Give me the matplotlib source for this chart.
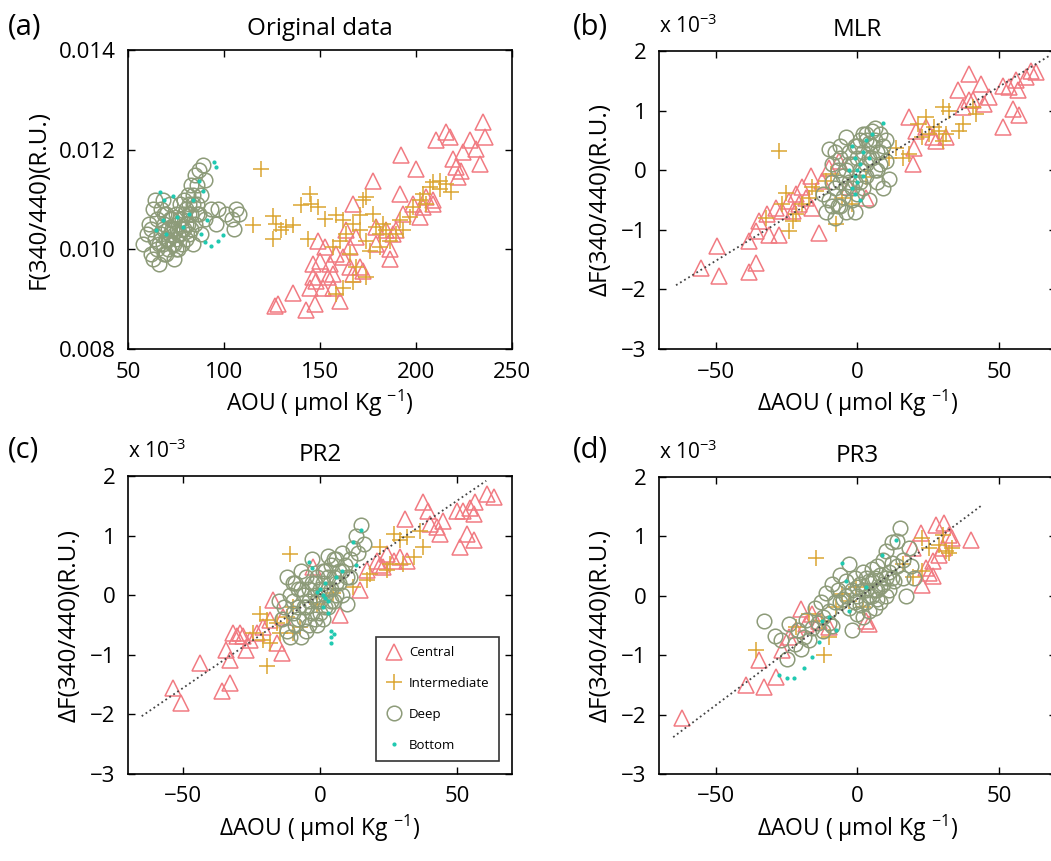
import matplotlib
matplotlib.use('Agg')
import matplotlib.pyplot as plt

plt.rcParams['font.family'] = ['Open Sans', 'DejaVu Sans']

# ---- (a) original data: AOU vs F(340/440)
cen_a_x = [128.1, 126.4, 135.9, 142.9, 147.2, 146.4, 149.0, 152.4, 149.8, 155.0, 156.8, 160.2, 151.6, 148.1,
           156.8, 154.1, 162.0, 163.7, 165.5, 167.2, 170.7, 172.4, 169.0, 177.6, 179.3, 186.3, 189.8, 188.0,
           191.5, 192.4, 198.4, 200.2, 201.9, 203.6, 208.9, 210.6, 215.8, 217.5, 219.3, 221.0, 224.5, 228.0,
           231.4, 233.2, 234.9, 235.8, 223.6, 222.0, 208.9, 205.4, 193.2, 184.5, 186.3, 179.3, 146.4, 144.6,
           158.5, 165.5, 167.2]
cen_a_y = [0.00890, 0.00886, 0.00913, 0.00879, 0.00890, 0.00970, 0.01017, 0.01004, 0.00977, 0.00970, 0.00950,
           0.00896, 0.00923, 0.00937, 0.00923, 0.00944, 0.00984, 0.01038, 0.01004, 0.01091, 0.00964, 0.00957,
           0.01024, 0.01138, 0.01011, 0.00981, 0.01038, 0.01031, 0.01111, 0.01189, 0.01091, 0.01162, 0.01064,
           0.01085, 0.01098, 0.01219, 0.01236, 0.01226, 0.01182, 0.01165, 0.01195, 0.01219, 0.01202, 0.01172,
           0.01256, 0.01226, 0.01158, 0.01145, 0.01091, 0.01105, 0.01071, 0.01038, 0.01001, 0.01044, 0.00944,
           0.00923, 0.00991, 0.00964, 0.00950]
int_a_x = [119.4, 115.0, 125.5, 127.3, 129.9, 125.5, 132.4, 135.9, 140.3, 144.6, 145.5, 149.0, 143.8, 152.4,
           158.5, 162.0, 163.7, 160.2, 167.2, 170.7, 172.4, 174.1, 177.6, 170.7, 174.1, 179.3, 182.8, 184.5,
           186.3, 176.0, 181.0, 174.1, 167.2, 169.0, 165.5, 191.5, 196.7, 198.4, 201.9, 203.6, 207.1, 208.9,
           212.3, 215.8, 218.4, 212.3, 205.4, 193.2, 189.8, 181.1, 156.8, 162.0, 158.5]
int_a_y = [0.01162, 0.01048, 0.01067, 0.01051, 0.01038, 0.01021, 0.01044, 0.01048, 0.01088, 0.01111, 0.01091,
           0.01085, 0.01021, 0.01061, 0.01068, 0.01058, 0.01031, 0.01017, 0.01051, 0.01068, 0.01098, 0.01105,
           0.01071, 0.01038, 0.01017, 0.01044, 0.01051, 0.01038, 0.01017, 0.00997, 0.01004, 0.00944, 0.00934,
           0.00964, 0.00991, 0.01058, 0.01064, 0.01085, 0.01098, 0.01111, 0.01125, 0.01135, 0.01121, 0.01132,
           0.01115, 0.01138, 0.01091, 0.01038, 0.01031, 0.01031, 0.01004, 0.00923, 0.00910]
deep_a_x = [58, 60, 61, 62, 63, 64, 65, 65, 66, 67, 67, 68, 69, 69, 70, 70, 71, 71, 72, 72, 73, 73, 74, 74, 75,
            75, 76, 76, 77, 77, 78, 78, 79, 79, 80, 80, 81, 81, 82, 82, 83, 83, 84, 84, 85, 85, 86, 86, 87, 87,
            88, 88, 89, 90, 90, 93, 97, 101, 104, 106, 108, 105, 96, 68, 64,
            62, 66, 68, 70, 72, 74, 76, 78, 80, 82, 84, 86, 75, 71, 69, 63, 79, 83, 73, 77]
deep_a_y = [0.0101, 0.0103, 0.0105, 0.0099, 0.0108, 0.0102, 0.0100, 0.0106, 0.0097, 0.0103, 0.0108, 0.0101,
            0.0099, 0.0105, 0.0102, 0.0107, 0.0100, 0.0104, 0.0103, 0.0109, 0.0101, 0.0106, 0.0098, 0.0104,
            0.0102, 0.0107, 0.0100, 0.0105, 0.0103, 0.0109, 0.0101, 0.0106, 0.0110, 0.0104, 0.0102, 0.0108,
            0.0111, 0.0105, 0.0103, 0.0109, 0.0113, 0.0107, 0.0101, 0.0111, 0.0115, 0.0105, 0.0109, 0.0113,
            0.0107, 0.0116, 0.0111, 0.0103, 0.0117, 0.0114, 0.0106, 0.0108, 0.0108, 0.0107, 0.0106, 0.0108,
            0.0107, 0.0104, 0.0105, 0.0110, 0.0110,
            0.0104, 0.0101, 0.0104, 0.0099, 0.0106, 0.0101, 0.0103, 0.0104, 0.0105, 0.0107, 0.0109, 0.0107,
            0.0100, 0.0102, 0.0107, 0.0098, 0.0107, 0.0104, 0.0104, 0.0106]
bot_a_x = [66.8, 73.4, 69.0, 95.0, 95.6, 68.0, 87.0, 89.0, 91.0, 88.0, 90.0, 93.4, 96.9, 99.5, 75.3, 78.8,
           70.0, 64.8, 82.0, 83.9]
bot_a_y = [0.01115, 0.01108, 0.01098, 0.01175, 0.01165, 0.01058, 0.01138, 0.01118, 0.01058, 0.01031, 0.01014,
           0.01007, 0.01017, 0.01028, 0.01064, 0.01044, 0.01031, 0.01038, 0.01071, 0.01098]

# ---- (b) MLR residuals (y in units of 1e-3)
cen_b_x = [-55.3, -48.8, -49.4, -38.2, -35.9, -38.2, -35.9, -34.7, -31.8, -31.2, -28.8, -27.6, -26.5, -24.1,
           -22.9, -21.8, -20.6, -19.4, -18.2, -16.5, -15.9, -13.5, -12.4, -10.0, 2.9, 18.2, 19.4, 20.0, 20.6,
           24.1, 26.5, 27.6, 31.2, 35.3, 37.1, 39.4, 40.6, 43.5, 44.7, 46.5, 51.2, 51.2, 54.7, 53.5, 56.5, 55.9,
           57.1, 61.2, 62.9, 59.4, 39.4, -6.5, -2.9]
cen_b_y = [-1.64, -1.78, -1.28, -1.70, -1.56, -1.19, -1.02, -0.85, -0.74, -1.08, -0.63, -1.08, -0.69, -0.52,
           -0.69, -0.40, -0.57, -0.29, -0.46, -0.10, -0.63, -1.05, -0.18, 0.04, -0.46, 0.89, 0.10, 0.38, 0.66,
           0.72, 0.55, 0.49, 0.55, 1.34, 1.06, 1.62, 1.17, 1.45, 1.11, 1.22, 0.72, 1.42, 1.03, 1.39, 1.34, 1.52,
           0.92, 1.67, 1.65, 1.56, 1.17, 0.16, -0.29]
int_b_x = [-27.6, -25.3, -26.5, -22.9, -21.8, -19.4, -17.1, -14.7, -11.2, -9.4, -7.6, 2.9, 11.2, 13.5, 15.9,
           18.2, 21.2, 24.1, 25.3, 28.8, 30.0, 32.4, 31.2, 30.0, 37.1, 35.9, 40.6, 41.8, 22.9, 27.1, -5.3, -1.8,
           -15.9, -32.4, -24.1]
int_b_y = [0.33, -0.38, -0.57, -0.85, -0.74, -0.57, -0.46, -0.35, -0.18, -0.07, -0.91, -0.12, 0.21, 0.38, 0.21,
           0.27, 0.78, 0.89, 0.61, 0.66, 1.06, 1.00, 0.61, 0.49, 0.78, 0.66, 1.06, 0.94, 0.55, 0.72, -0.46, -0.57,
           -0.29, -0.80, -1.02]
deep_b_x = [-10, -9, -9, -10, -11, -8, -7, -8, -7, -6, -4, -5, -5, -4, -3, -3, -2, -2, -1, -1, 0, 0, 1, 1, 2, 2,
            3, 3, 4, 4, 5, 5, 6, 6, 7, 7, 8, 8, 9, 10, 11, -6, -12, -1, 3, -4,
            -6, -3, 0, 2, 4, 6, -8, -9, -2, 1, 3, 5, 7, 9, 10, -4, -6, 8]
deep_b_y = [0.35, 0.1, -0.2, -0.5, -0.7, -0.8, -0.6, -0.3, 0.0, 0.2, 0.55, -0.1, -0.45, -0.7, 0.3, -0.2, 0.1,
            -0.5, 0.4, -0.2, 0.2, -0.4, 0.5, 0.0, -0.3, 0.3, 0.6, -0.1, 0.2, -0.5, 0.65, 0.4, 0.0, 0.5, 0.3, -0.2,
            0.6, 0.1, 0.4, 0.15, -0.15, 0.4, -0.4, -0.7, 0.5, 0.0,
            -0.2, 0.1, 0.4, 0.6, 0.45, 0.7, 0.3, -0.6, -0.3, -0.2, 0.1, 0.2, 0.0, -0.3, 0.5, -0.3, -0.6, 0.3]
bot_b_x = [-2, -1, -2, 0, 1, -1, 2, 3, 9, 0, -3, 1, 4, -1, 2, 5]
bot_b_y = [0.4, -0.1, -0.3, -0.2, 0.1, -0.4, 0.3, 0.5, 0.8, 0.0, 0.0, -0.5, 0.2, 0.2, -0.1, 0.6]
fit_b_x = [-64, 68]
fit_b_y = [-1.93, 1.93]

# ---- (c) PR2 residuals
cen_c_x = [-53.5, -50.5, -43.8, -35.9, -32.8, -34.1, -32.8, -31.6, -30.4, -29.2, -28.0, -26.8, -25.5, -23.1,
           -20.7, -18.2, -15.8, -14.0, -17.0, -13.4, -2.4, 7.3, 14.6, 17.0, 20.7, 24.3, 26.8, 29.2, 31.6, 31.0,
           37.7, 39.5, 40.1, 42.6, 45.0, 43.8, 49.9, 51.1, 53.5, 56.0, 52.3, 54.7, 56.0, 56.6, 60.8, 63.3, 21.9,
           23.1]
cen_c_y = [-1.56, -1.81, -1.14, -1.61, -1.47, -0.92, -1.08, -0.64, -0.69, -0.64, -0.69, -0.92, -0.75, -0.64,
           -0.53, -0.42, -0.81, -0.97, -0.08, -0.36, 0.47, -0.33, 0.08, 0.42, 0.58, 0.69, 0.58, 0.64, 0.58, 1.28,
           1.56, 1.42, 1.19, 1.14, 1.25, 1.03, 1.42, 0.81, 1.03, 0.92, 1.42, 1.47, 1.36, 1.56, 1.69, 1.64, 0.50,
           0.47]
int_c_x = [-11.0, -19.5, -21.9, -19.5, -20.7, -24.3, -18.2, -14.6, -15.8, -12.2, -9.7, -7.3, 17.0, 18.2, 21.9,
           26.8, 29.2, 31.6, 34.1, 36.5, 37.7, 25.5, 24.3, 30.4, 12.2, -9.7, -1.2, 4.9]
int_c_y = [0.69, -1.19, -0.31, -0.42, -0.75, -0.64, -0.81, -0.64, -0.47, -0.36, -0.19, -0.53, 0.25, 0.36, 0.81,
           1.03, 0.92, 0.97, 0.64, 1.08, 0.81, 0.53, 0.42, 0.53, 0.14, -0.64, -0.14, 0.03]
deep_c_x = [-15, -14, -13, -12, -11, -11, -10, -10, -9, -8, -8, -7, -7, -6, -6, -5, -5, -4, -4, -3, -3, -2, -2,
            -1, -1, 0, 0, 1, 1, 2, 2, 3, 3, 4, 4, 5, 5, 6, 6, 7, 8, 8, 9, 10, 10, 11, 12, 13, 14, 15, 16, -3,
            -12, 5, 3,
            -10, -8, -6, -4, -2, 0, 2, 4, 6, 8, -5, -9, 1, 7, 11, -1, 3, -7]
deep_c_y = [-0.1, -0.4, -0.2, -0.6, 0.0, -0.7, -0.3, 0.2, -0.5, 0.1, -0.2, 0.4, -0.7, -0.4, 0.0, 0.3, -0.2,
            -0.5, 0.1, 0.2, -0.3, 0.0, -0.4, 0.3, -0.1, -0.3, 0.1, 0.2, -0.4, 0.0, 0.4, -0.2, 0.3, 0.1, 0.5, -0.1,
            0.3, 0.6, 0.2, 0.4, 0.0, 0.7, 0.5, -0.14, 0.3, 0.6, 0.8, 1.0, 0.7, 1.17, 0.86, 0.6, 0.3, 0.6, 0.65,
            -0.1, -0.4, -0.2, -0.1, 0.2, -0.1, -0.2, -0.1, 0.0, 0.4, -0.6, 0.2, 0.4, 0.2, 0.3, -0.5, 0.1, 0.1]
bot_c_x = [-4, -3, 2, 3, 1, 0, 2, 4, 4, 5, 4, 3, -1, 1, 15, 12, 13, 6, 8]
bot_c_y = [0.55, 0.45, -0.05, -0.1, -0.2, 0.1, 0.2, -0.6, -0.7, -0.65, -0.8, -0.3, 0.05, 0.0, 1.1, 0.9, 0.5,
           0.3, 0.4]
fit_c_x = [-65, 60.6]
fit_c_y = [-2.03, 1.92]

# ---- (d) PR3 residuals
cen_d_x = [-61.8, -39.4, -32.9, -28.8, -34.7, -26.5, -24.1, -21.8, -20.0, -18.2, -15.9, -13.5, -10.0, 2.9, 4.1,
           22.9, 25.3, 26.5, 22.4, 27.6, 30.6, 32.4, 33.5, 40.0, 19.4, 30.0, 28.8, 26.5, 24.1]
cen_d_y = [-2.06, -1.50, -1.53, -1.36, -1.08, -0.92, -0.69, -0.58, -0.22, -0.47, -0.31, -0.42, -0.53, -0.42,
           -0.47, 0.19, 0.39, 0.33, 1.06, 1.19, 1.22, 1.03, 0.97, 0.94, 0.81, 0.81, 0.69, 0.58, 0.47]
int_d_x = [-14.7, -35.9, -11.8, -10.0, -12.4, -7.6, -5.3, -2.9, 22.9, 25.3, 28.8, 31.2, 32.4, 19.4, 22.9, 15.9,
           -21.8, -17.1, 30.0, 33.5, -0.6, 1.8]
int_d_y = [0.64, -0.92, -1.00, -0.69, -0.42, -0.19, 0.03, -0.08, 0.97, 0.81, 0.86, 0.75, 0.72, 0.31, 0.42, 0.53,
           -0.53, -0.31, 1.03, 0.81, 0.14, -0.19]
deep_d_x = [-33, -29, -27, -25, -24, -22, -21, -19, -18, -16, -15, -14, -13, -12, -11, -10, -9, -8, -7, -6, -5,
            -4, -3, -3, -2, -2, -1, 0, 0, 1, 1, 2, 2, 3, 3, 4, 4, 5, 5, 6, 6, 7, 7, 8, 8, 9, 9, 10, 10, 11, 12, 12,
            13, 14, 15, 16, 17, 18, 19, 20, -20, -17, -9,
            -10, -6, -4, 0, 2, 4, 6, 8, 10, 12, 14, 16, -1, 3, 5, 7, 11, -12]
deep_d_y = [-0.42, -0.67, -0.75, -1.06, -0.47, -0.81, -0.58, -0.7, -0.4, -0.55, -0.2, -0.45, -0.1, -0.35, 0.05,
            -0.25, 0.2, -0.1, 0.1, 0.35, -0.05, 0.25, 0.53, -0.2, 0.1, -0.58, 0.3, 0.0, -0.3, 0.2, -0.15, 0.4,
            -0.35, 0.1, -0.1, 0.25, -0.25, 0.45, 0.0, -0.2, 0.3, 0.1, 0.5, -0.1, 0.35, 0.6, 0.2, 0.75, 0.0, 0.4,
            0.9, 0.55, 0.25, 0.92, 1.14, 0.6, 0.0, 0.8, 0.5, 0.3, -0.9, -0.75, -0.5,
            -0.45, -0.1, 0.0, 0.15, 0.1, 0.0, 0.1, 0.15, 0.3, 0.3, 0.5, 0.3, -0.1, 0.3, 0.25, -0.05, 0.1, -0.6]
bot_d_x = [-27.6, -24.7, -22.4, -18.8, -15.9, -13.5, -12.4, -5.3, -4.1, 2.9, 8.8, 13.5, -7.6, -2.9, -10.0]
bot_d_y = [-1.33, -1.39, -1.39, -1.22, -1.03, -0.78, -0.42, 0.56, 0.25, 0.14, 0.69, 0.94, -0.58, -0.25, -0.36]
fit_d_x = [-65, 44]
fit_d_y = [-2.38, 1.53]

c_cen = '#f17b82'
c_int = '#dba532'
c_deep = '#8d9b79'
c_bot = '#1fc9b0'

W, H = 1051, 861
fig = plt.figure(figsize=(W / 100, H / 100), dpi=100)


def make_ax(l, t, w, h):
    return fig.add_axes([l / W, 1 - (t + h) / H, w / W, h / H])


def draw(ax, cx, cy, ix, iy, dx, dy, bx, by):
    ax.plot(cx, cy, '^', ls='none', mfc='none', mec=c_cen, ms=11, mew=1.1, label='Central')
    ax.plot(ix, iy, '+', ls='none', color=c_int, ms=12, mew=1.1, label='Intermediate')
    ax.plot(dx, dy, 'o', ls='none', mfc='none', mec=c_deep, ms=10.5, mew=1.1, label='Deep')
    ax.plot(bx, by, '.', ls='none', color=c_bot, ms=4, label='Bottom')


def style(ax):
    ax.tick_params(direction='in', top=True, right=True, length=5, width=1, labelsize=16, pad=9)
    for s in ax.spines.values():
        s.set_linewidth(1.2)


xlab = 'AOU ( \u03bcmol Kg $^{\\mathregular{-1}}$)'

# (a)
ax = make_ax(128, 50, 384, 299)
draw(ax, cen_a_x, cen_a_y, int_a_x, int_a_y, deep_a_x, deep_a_y, bot_a_x, bot_a_y)
ax.set_xlim(50, 250)
ax.set_ylim(0.008, 0.014)
ax.set_xticks([50, 100, 150, 200, 250])
ax.set_yticks([0.008, 0.010, 0.012, 0.014])
ax.set_yticklabels(['0.008', '0.010', '0.012', '0.014'])
style(ax)
ax.set_title('Original data', fontsize=17.5, pad=11)
ax.set_ylabel('F(340/440)(R.U.)', fontsize=17.5, labelpad=6)
ax.set_xlabel(xlab, fontsize=16.5, labelpad=4)

panels = [
    ((659, 51, 397, 298), 'MLR', (cen_b_x, cen_b_y, int_b_x, int_b_y, deep_b_x, deep_b_y, bot_b_x, bot_b_y),
     fit_b_x, fit_b_y),
    ((128, 476, 384, 298), 'PR2', (cen_c_x, cen_c_y, int_c_x, int_c_y, deep_c_x, deep_c_y, bot_c_x, bot_c_y),
     fit_c_x, fit_c_y),
    ((659, 477, 397, 297), 'PR3', (cen_d_x, cen_d_y, int_d_x, int_d_y, deep_d_x, deep_d_y, bot_d_x, bot_d_y),
     fit_d_x, fit_d_y),
]
axes = [ax]
for pos, title, d, fx, fy in panels:
    ax = make_ax(*pos)
    draw(ax, *d)
    ax.plot(fx, fy, ':', color='#444444', lw=1.3)
    ax.set_xlim(-70, 70)
    ax.set_ylim(-3, 2)
    ax.set_xticks([-50, 0, 50])
    ax.set_yticks([-3, -2, -1, 0, 1, 2])
    style(ax)
    ax.set_title(title, fontsize=17.5, pad=11)
    ax.set_ylabel('\u0394F(340/440)(R.U.)', fontsize=17.5, labelpad=6)
    ax.set_xlabel('\u0394' + xlab, fontsize=16.5, labelpad=4)
    ax.text(0.0, 1.045, 'x 10$^{\\mathregular{\u22123}}$', transform=ax.transAxes, fontsize=15,
            ha='left', va='bottom')
    axes.append(ax)

leg = axes[2].legend(loc='lower right', bbox_to_anchor=(0.966, 0.044), fontsize=9.5, frameon=True,
                     fancybox=False, edgecolor='black', labelspacing=1.35, borderpad=0.7,
                     handlelength=1.3, handletextpad=0.5, borderaxespad=0)
leg.get_frame().set_linewidth(1.2)

for lab, (x, y) in zip(['(a)', '(b)', '(c)', '(d)'], [(8, 27), (573, 27), (8, 450), (573, 450)]):
    fig.text(x / W, 1 - y / H, lab, fontsize=21, ha='left', va='center')

fig.savefig('out.png', dpi=100)
